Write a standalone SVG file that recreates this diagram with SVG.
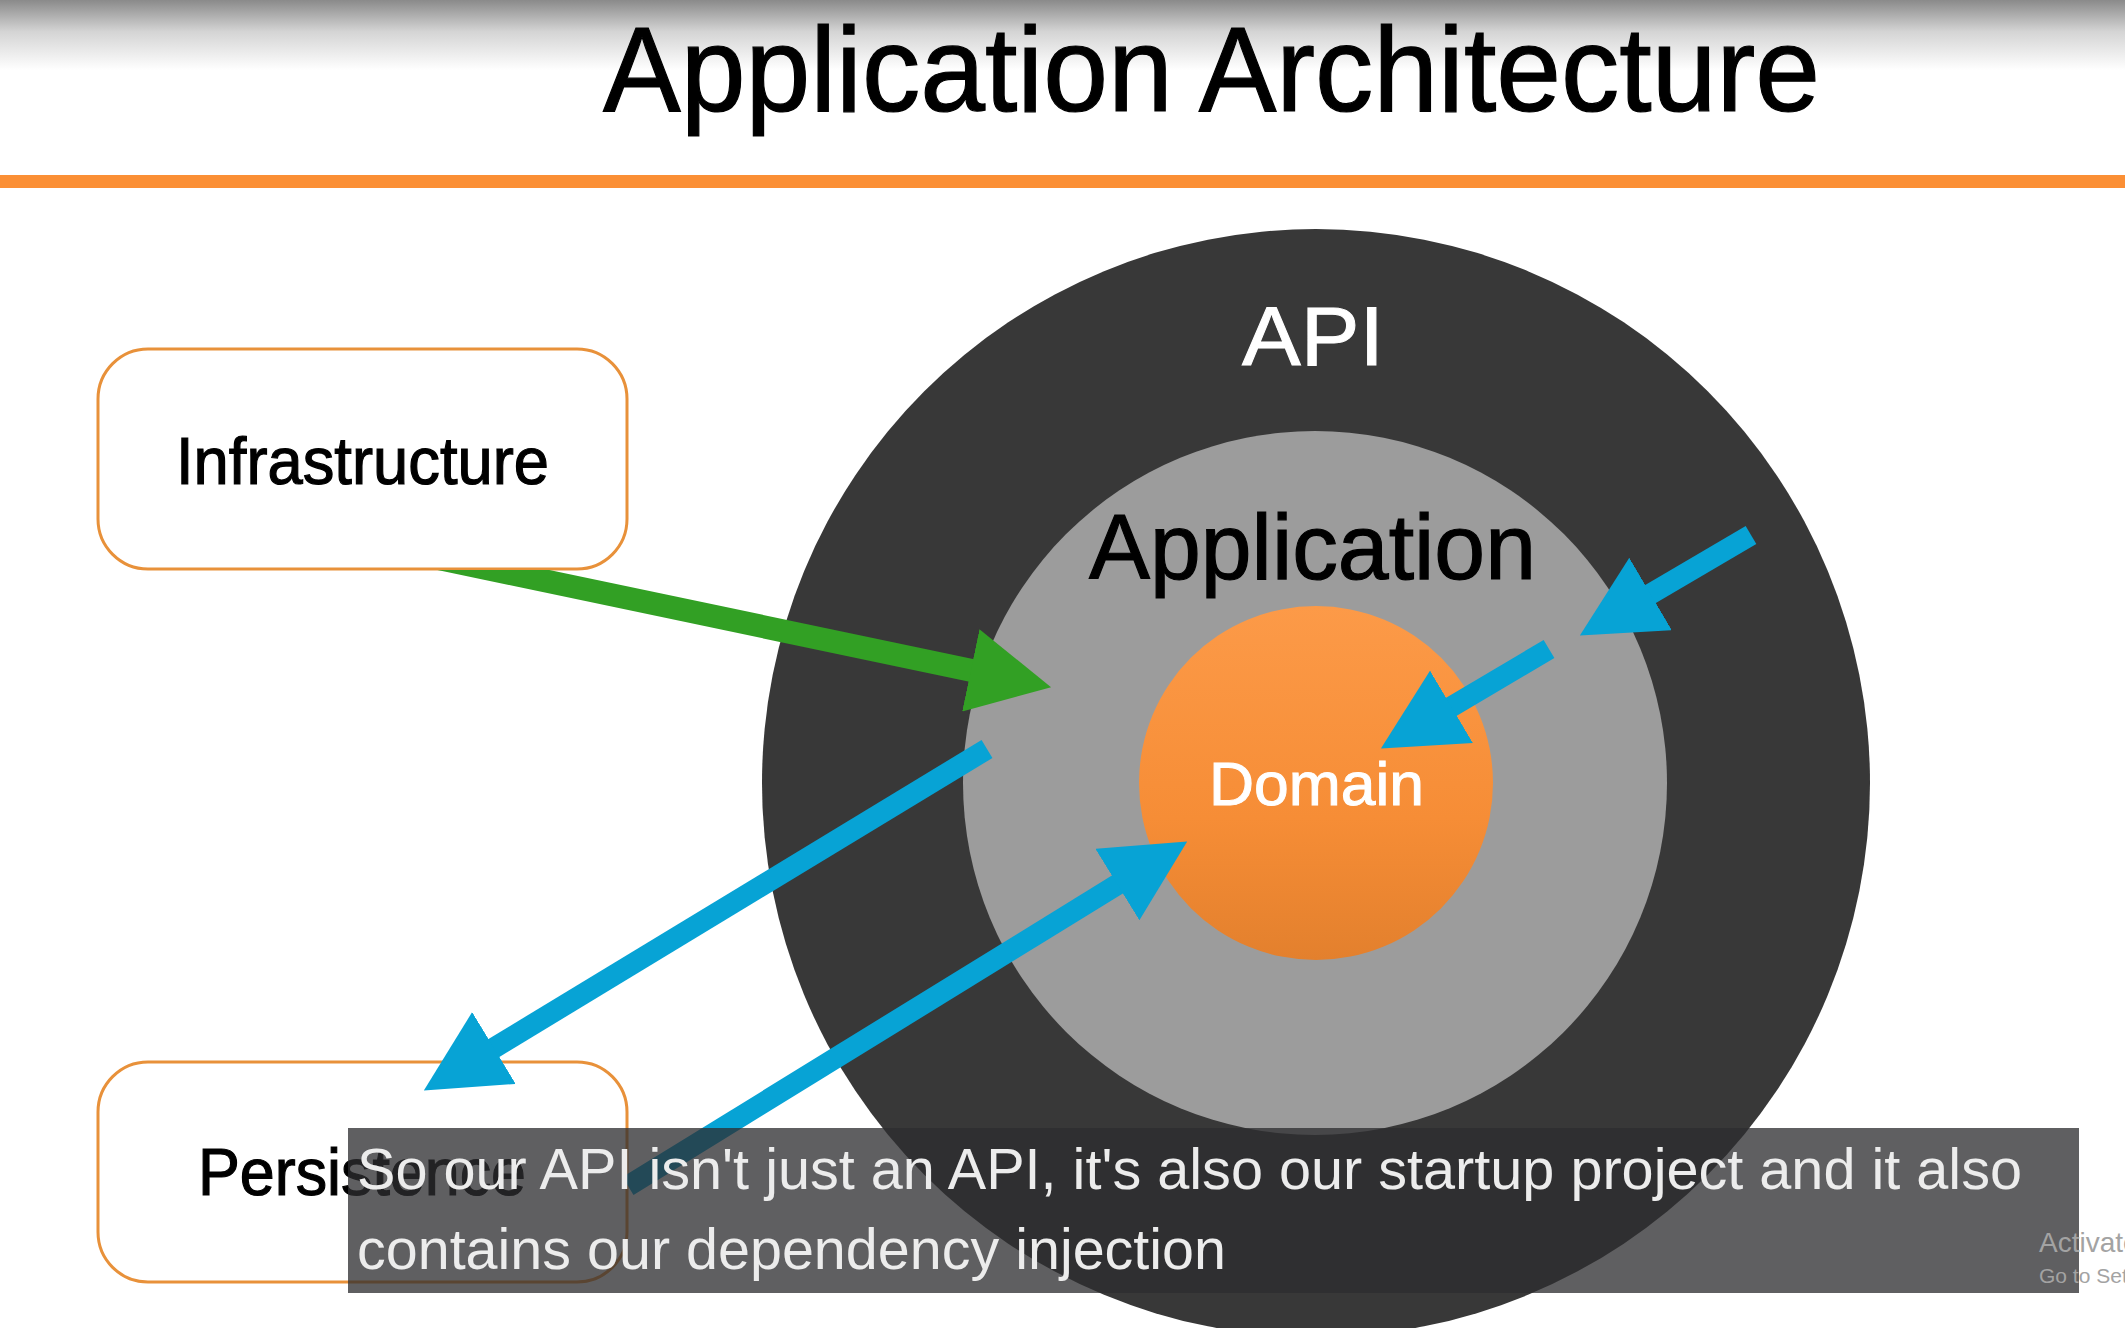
<svg xmlns="http://www.w3.org/2000/svg" width="2125" height="1328" viewBox="0 0 2125 1328">
  <defs>
    <linearGradient id="topShade" x1="0" y1="0" x2="0" y2="1">
      <stop offset="0" stop-color="#8a8a8a"/>
      <stop offset="0.45" stop-color="#d4d4d4"/>
      <stop offset="1" stop-color="#ffffff"/>
    </linearGradient>
    <linearGradient id="domainFill" x1="0" y1="0" x2="0" y2="1">
      <stop offset="0" stop-color="#fc9a48"/>
      <stop offset="0.6" stop-color="#f68d36"/>
      <stop offset="1" stop-color="#e3802d"/>
    </linearGradient>
    <marker id="headGreen" markerUnits="userSpaceOnUse" viewBox="0 0 82 84" refX="1" refY="42" markerWidth="82" markerHeight="84" orient="auto">
      <path d="M0,0 L82,42 L0,84 Z" fill="#32a024"/>
    </marker>
    <marker id="headBlue" markerUnits="userSpaceOnUse" viewBox="0 0 82 84" refX="1" refY="42" markerWidth="82" markerHeight="84" orient="auto">
      <path d="M0,0 L82,42 L0,84 Z" fill="#07a3d5"/>
    </marker>
    <clipPath id="belowInfra">
      <rect x="0" y="570" width="2125" height="758"/>
    </clipPath>
  </defs>
  <style>
    .sans { font-family: "Liberation Sans", Arial, Helvetica, sans-serif; }
    .ink { fill: #000000; stroke: #000000; stroke-width: 1.2; }
    .inkWhite { fill: #ffffff; stroke: #ffffff; stroke-width: 1; }
    .box { fill: #ffffff; stroke: #e8913a; stroke-width: 3; }
    .boxLabel { font-size: 66px; }
    .conn { fill: none; stroke-linecap: butt; }
    .green { stroke: #32a024; stroke-width: 23; marker-end: url(#headGreen); }
    .blue { stroke: #07a3d5; stroke-width: 21; marker-end: url(#headBlue); }
    .caption { font-size: 57px; fill: #ececec; }
    .mark { fill: #a3a3a3; }
  </style>

  <!-- page background and header -->
  <rect x="0" y="0" width="2125" height="1328" fill="#ffffff"/>
  <rect x="0" y="0" width="2125" height="70" fill="url(#topShade)"/>
  <text class="sans ink" x="603" y="111" font-size="121" stroke-width="1.6" textLength="1217" lengthAdjust="spacingAndGlyphs">Application Architecture</text>
  <rect x="0" y="175" width="2125" height="13" fill="#fb8f35"/>

  <!-- concentric layers -->
  <g id="api">
    <circle cx="1316" cy="783" r="554" fill="#383838"/>
    <text class="sans inkWhite" x="1242" y="365" font-size="84" textLength="142" lengthAdjust="spacingAndGlyphs">API</text>
  </g>
  <g id="application">
    <circle cx="1315" cy="783" r="352" fill="#9c9c9c"/>
    <text class="sans ink" x="1089" y="579" font-size="93" textLength="447" lengthAdjust="spacingAndGlyphs">Application</text>
  </g>
  <g id="domain">
    <circle cx="1316" cy="783" r="177" fill="url(#domainFill)"/>
    <text class="sans inkWhite" x="1209" y="805" font-size="62" textLength="215" lengthAdjust="spacingAndGlyphs">Domain</text>
  </g>

  <!-- side projects -->
  <g id="infrastructure">
    <rect class="box" x="98" y="349" width="529" height="220" rx="50" ry="50"/>
    <text class="sans ink boxLabel" x="176" y="484" textLength="373" lengthAdjust="spacingAndGlyphs">Infrastructure</text>
  </g>
  <g id="persistence">
    <rect class="box" x="98" y="1062" width="529" height="220" rx="50" ry="50"/>
    <text class="sans ink boxLabel" x="198" y="1195" textLength="328" lengthAdjust="spacingAndGlyphs">Persistence</text>
  </g>

  <!-- dependency arrows -->
  <g id="connectors">
    <line class="conn green" x1="422" y1="555" x2="971.8" y2="670.5" clip-path="url(#belowInfra)"/>
    <line class="conn blue" x1="987" y1="749" x2="493.1" y2="1048.5"/>
    <line class="conn blue" x1="628" y1="1186" x2="1118.2" y2="884"/>
    <line class="conn blue" x1="1751" y1="535" x2="1649.7" y2="594.5"/>
    <line class="conn blue" x1="1549" y1="649" x2="1450.6" y2="707.3"/>
  </g>

  <!-- caption strip -->
  <g id="caption">
    <rect x="348" y="1128" width="1731" height="165" fill="#2d2d2f" fill-opacity="0.76"/>
    <text class="sans caption" x="357" y="1189" textLength="1665" lengthAdjust="spacingAndGlyphs">So our API isn't just an API, it's also our startup project and it also</text>
    <text class="sans caption" x="357" y="1269" textLength="869" lengthAdjust="spacingAndGlyphs">contains our dependency injection</text>
  </g>

  <!-- system watermark -->
  <text class="sans mark" x="2039" y="1252" font-size="28">Activate Windows</text>
  <text class="sans mark" x="2039" y="1283" font-size="21">Go to Settings to activate Windows.</text>
</svg>
